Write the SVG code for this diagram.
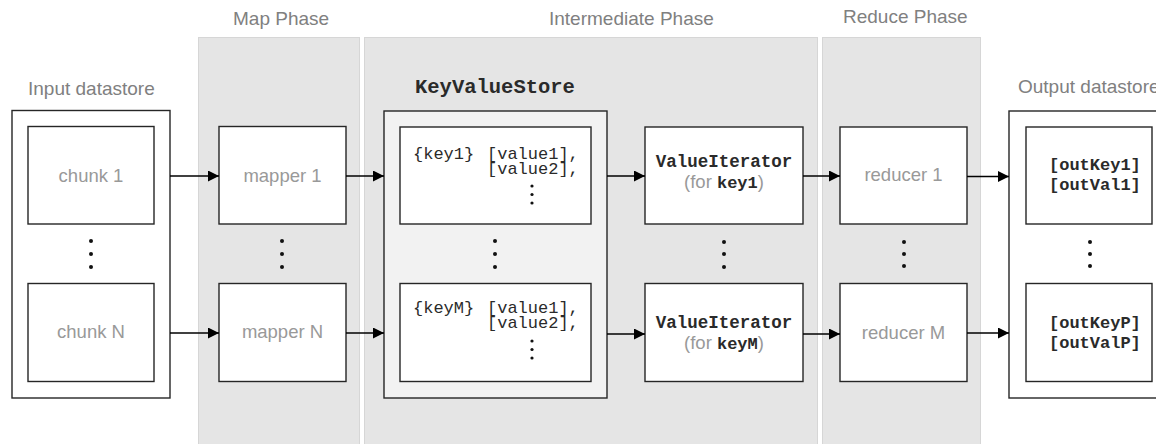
<svg xmlns="http://www.w3.org/2000/svg" width="1156" height="444" viewBox="0 0 1156 444">
<defs>
<marker id="ah" markerUnits="userSpaceOnUse" markerWidth="11" markerHeight="11" refX="11" refY="5.5" orient="auto">
<path d="M0,0 L11,5.5 L0,11 z" fill="#000"/>
</marker>
</defs>
<style>
.phase{fill:#e5e5e5;stroke:#d6d6d6;stroke-width:1}
.box{fill:#fff;stroke:#262626;stroke-width:1.4}
.kvs{fill:#f2f2f2;stroke:#262626;stroke-width:1.4}
.title{font-family:"Liberation Sans",Arial,sans-serif;font-size:19px;fill:#808080}
.lbl{font-family:"Liberation Sans",Arial,sans-serif;font-size:18.5px;fill:#999}
.mono{font-family:"Liberation Mono","Courier New",monospace;font-size:17px;fill:#2a2a2a}
.monob{font-family:"Liberation Mono","Courier New",monospace;font-size:17px;font-weight:bold;fill:#2a2a2a}
.dot{fill:#111}
.conn{stroke:#000;stroke-width:1.3;fill:none;marker-end:url(#ah)}
</style>
<rect width="1156" height="444" fill="#fff"/>
<!-- phase backgrounds -->
<g id="map-phase">
<rect class="phase" x="198.5" y="37.5" width="161" height="410"/>
<text class="title" x="233" y="25">Map Phase</text>
</g>
<g id="intermediate-phase">
<rect class="phase" x="364.5" y="37.5" width="453" height="410"/>
<text class="title" x="549" y="25">Intermediate Phase</text>
</g>
<g id="reduce-phase">
<rect class="phase" x="822.5" y="37.5" width="158" height="410"/>
<text class="title" x="843" y="23">Reduce Phase</text>
</g>
<!-- input datastore -->
<g id="input-datastore">
<text class="title" x="28" y="95">Input datastore</text>
<rect class="box" x="12" y="110.5" width="158" height="287.5"/>
</g>
<g id="chunk1">
<rect class="box" x="28" y="126.5" width="126" height="97.5"/>
<text class="lbl" x="91" y="182" text-anchor="middle">chunk 1</text>
</g>
<g id="chunk-dots">
<circle class="dot" cx="91" cy="241" r="2"/><circle class="dot" cx="91" cy="254" r="2"/><circle class="dot" cx="91" cy="267" r="2"/>
</g>
<g id="chunkN">
<rect class="box" x="28" y="283.5" width="126" height="98"/>
<text class="lbl" x="91" y="338" text-anchor="middle">chunk N</text>
</g>
<!-- mappers -->
<g id="mapper1">
<rect class="box" x="219" y="126.5" width="127" height="97.5"/>
<text class="lbl" x="282.5" y="182" text-anchor="middle">mapper 1</text>
</g>
<g id="mapper-dots">
<circle class="dot" cx="282" cy="241" r="2"/><circle class="dot" cx="282" cy="254" r="2"/><circle class="dot" cx="282" cy="267" r="2"/>
</g>
<g id="mapperN">
<rect class="box" x="219" y="283.5" width="127" height="98"/>
<text class="lbl" x="282.5" y="338" text-anchor="middle">mapper N</text>
</g>
<!-- KeyValueStore -->
<g id="keyvaluestore">
<text class="monob" style="font-size:20.5px" x="415" y="93">KeyValueStore</text>
<rect class="kvs" x="384" y="111" width="223" height="287"/>
</g>
<g id="kvs-key1">
<rect class="box" x="400" y="127" width="191" height="97"/>
<text class="mono" x="413" y="158.5">{key1}</text>
<text class="mono" x="487" y="158.5">[value1],</text>
<text class="mono" x="487" y="174">[value2],</text>
<circle class="dot" cx="532" cy="186" r="1.6"/><circle class="dot" cx="532" cy="194.5" r="1.6"/><circle class="dot" cx="532" cy="203" r="1.6"/>
</g>
<g id="kvs-dots">
<circle class="dot" cx="495" cy="241" r="2"/><circle class="dot" cx="495" cy="254" r="2"/><circle class="dot" cx="495" cy="267" r="2"/>
</g>
<g id="kvs-keyM">
<rect class="box" x="400" y="283.5" width="191" height="98"/>
<text class="mono" x="413" y="312.5">{keyM}</text>
<text class="mono" x="487" y="312.5">[value1],</text>
<text class="mono" x="487" y="328">[value2],</text>
<circle class="dot" cx="532" cy="341" r="1.6"/><circle class="dot" cx="532" cy="349.5" r="1.6"/><circle class="dot" cx="532" cy="358" r="1.6"/>
</g>
<!-- ValueIterators -->
<g id="valueiterator1">
<rect class="box" x="645" y="127" width="158" height="97"/>
<text class="monob" style="font-size:17.5px" x="724" y="167" text-anchor="middle">ValueIterator</text>
<text x="724" y="188" text-anchor="middle"><tspan class="lbl">(for </tspan><tspan class="monob">key1</tspan><tspan class="lbl">)</tspan></text>
</g>
<g id="vi-dots">
<circle class="dot" cx="724" cy="242" r="2"/><circle class="dot" cx="724" cy="254" r="2"/><circle class="dot" cx="724" cy="267" r="2"/>
</g>
<g id="valueiteratorM">
<rect class="box" x="645" y="283.5" width="158" height="98"/>
<text class="monob" style="font-size:17.5px" x="724" y="328" text-anchor="middle">ValueIterator</text>
<text x="724" y="349" text-anchor="middle"><tspan class="lbl">(for </tspan><tspan class="monob">keyM</tspan><tspan class="lbl">)</tspan></text>
</g>
<!-- reducers -->
<g id="reducer1">
<rect class="box" x="840" y="127" width="127" height="97"/>
<text class="lbl" x="903.5" y="181" text-anchor="middle">reducer 1</text>
</g>
<g id="reducer-dots">
<circle class="dot" cx="904" cy="242" r="2"/><circle class="dot" cx="904" cy="254" r="2"/><circle class="dot" cx="904" cy="266" r="2"/>
</g>
<g id="reducerM">
<rect class="box" x="840" y="283.5" width="127" height="98"/>
<text class="lbl" x="903.5" y="339" text-anchor="middle">reducer M</text>
</g>
<!-- output datastore -->
<g id="output-datastore">
<text class="title" x="1018" y="93">Output datastore</text>
<rect class="box" x="1009" y="111" width="160" height="287"/>
</g>
<g id="out1">
<rect class="box" x="1026" y="127" width="126" height="97"/>
<text class="monob" x="1049" y="170">[outKey1]</text>
<text class="monob" x="1049" y="190">[outVal1]</text>
</g>
<g id="out-dots">
<circle class="dot" cx="1090" cy="242" r="2"/><circle class="dot" cx="1090" cy="254" r="2"/><circle class="dot" cx="1090" cy="266" r="2"/>
</g>
<g id="outP">
<rect class="box" x="1026" y="283.5" width="126" height="98"/>
<text class="monob" x="1049" y="328">[outKeyP]</text>
<text class="monob" x="1049" y="348">[outValP]</text>
</g>
<!-- connectors -->
<g id="connectors">
<line class="conn" x1="170" y1="176" x2="219" y2="176"/>
<line class="conn" x1="170" y1="333" x2="219" y2="333"/>
<line class="conn" x1="346" y1="176" x2="384" y2="176"/>
<line class="conn" x1="346" y1="333" x2="384" y2="333"/>
<line class="conn" x1="607" y1="176" x2="645" y2="176"/>
<line class="conn" x1="607" y1="334" x2="645" y2="334"/>
<line class="conn" x1="803" y1="176" x2="840" y2="176"/>
<line class="conn" x1="803" y1="334" x2="840" y2="334"/>
<line class="conn" x1="967" y1="176.5" x2="1009" y2="176.5"/>
<line class="conn" x1="967" y1="333" x2="1009" y2="333"/>
</g>
</svg>
